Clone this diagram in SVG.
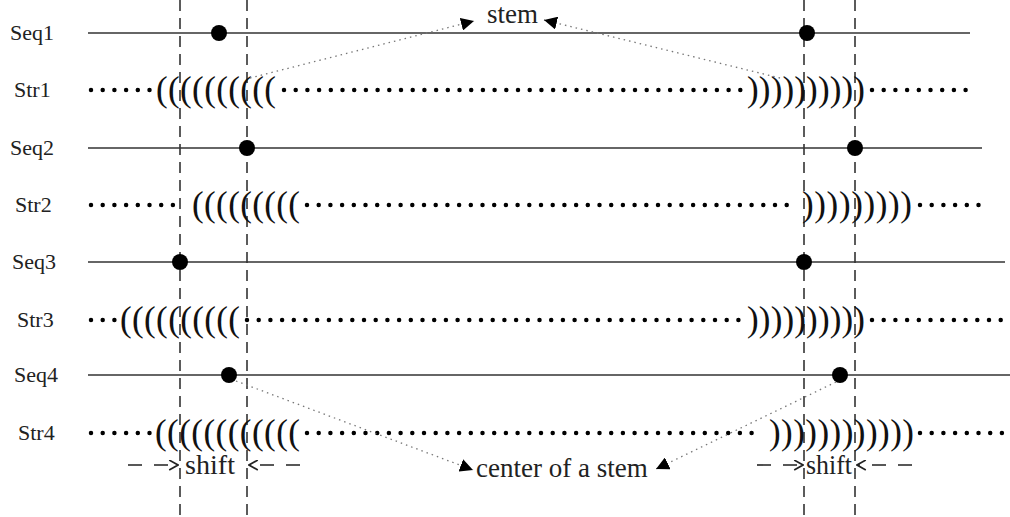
<svg xmlns="http://www.w3.org/2000/svg" width="1010" height="517" viewBox="0 0 1010 517">
<style>
.lbl{font-family:"Liberation Serif",serif;font-size:22px;fill:#222}
.ann{font-family:"Liberation Serif",serif;font-size:27px;fill:#222}
.par{font-family:"Liberation Serif",serif;font-size:35px;fill:#111}
.seq{stroke:#333;stroke-width:1.6;fill:none}
.dots{stroke:#000;stroke-width:4.5;stroke-linecap:round;stroke-dasharray:0 11.7;fill:none}
.vd{stroke:#333;stroke-width:1.6;stroke-dasharray:11 7;fill:none}
.pt{stroke:#777;stroke-width:1.3;stroke-dasharray:1.5 4;fill:none}
.sd{stroke:#222;stroke-width:1.6;stroke-dasharray:14 12;fill:none}
</style>
<defs>
<marker id="tri" viewBox="0 0 10 10" refX="10" refY="5" markerWidth="13" markerHeight="13" markerUnits="userSpaceOnUse" orient="auto">
<path d="M0,0 L10,5 L0,10 z" fill="#000"/>
</marker>
<marker id="open" viewBox="0 0 10 10" refX="9" refY="5" markerWidth="11" markerHeight="11" markerUnits="userSpaceOnUse" orient="auto">
<path d="M1,0.5 L9,5 L1,9.5" fill="none" stroke="#222" stroke-width="1.5"/>
</marker>
</defs>

<g id="guides">
<line class="vd" x1="180" y1="0" x2="180" y2="517"/>
<line class="vd" x1="247" y1="0" x2="247" y2="517"/>
<line class="vd" x1="804" y1="0" x2="804" y2="517"/>
<line class="vd" x1="855" y1="0" x2="855" y2="517"/>
</g>

<g id="seq1">
<text class="lbl" x="10" y="40">Seq1</text>
<line class="seq" x1="88" y1="33" x2="970" y2="33"/>
<circle cx="219" cy="33" r="8" fill="#000"/>
<circle cx="807" cy="33" r="8" fill="#000"/>
</g>
<g id="str1">
<text class="lbl" x="14" y="97">Str1</text>
<line class="dots" x1="91" y1="90" x2="152" y2="90"/>
<text class="par" x="156" y="101" textLength="120" lengthAdjust="spacing">((((((((((</text>
<line class="dots" x1="284" y1="90" x2="742" y2="90"/>
<text class="par" x="747" y="101" textLength="118" lengthAdjust="spacing">))))))))))</text>
<line class="dots" x1="872" y1="90" x2="970" y2="90"/>
</g>

<g id="seq2">
<text class="lbl" x="10" y="155">Seq2</text>
<line class="seq" x1="88" y1="148" x2="982" y2="148"/>
<circle cx="247" cy="148" r="8" fill="#000"/>
<circle cx="855" cy="148" r="8" fill="#000"/>
</g>
<g id="str2">
<text class="lbl" x="15" y="212">Str2</text>
<line class="dots" x1="91" y1="205" x2="180" y2="205"/>
<text class="par" x="192" y="216" textLength="108" lengthAdjust="spacing">(((((((((</text>
<line class="dots" x1="307" y1="205" x2="798" y2="205"/>
<text class="par" x="802" y="216" textLength="110" lengthAdjust="spacing">)))))))))</text>
<line class="dots" x1="920" y1="205" x2="982" y2="205"/>
</g>

<g id="seq3">
<text class="lbl" x="12" y="269">Seq3</text>
<line class="seq" x1="88" y1="262" x2="1005" y2="262"/>
<circle cx="180" cy="262" r="8" fill="#000"/>
<circle cx="804" cy="262" r="8" fill="#000"/>
</g>
<g id="str3">
<text class="lbl" x="17" y="327">Str3</text>
<line class="dots" x1="91" y1="320" x2="116" y2="320"/>
<text class="par" x="120" y="331" textLength="120" lengthAdjust="spacing">((((((((((</text>
<line class="dots" x1="247" y1="320" x2="742" y2="320"/>
<text class="par" x="747" y="331" textLength="118" lengthAdjust="spacing">))))))))))</text>
<line class="dots" x1="872" y1="320" x2="1005" y2="320"/>
</g>

<g id="seq4">
<text class="lbl" x="14" y="382">Seq4</text>
<line class="seq" x1="88" y1="375" x2="1010" y2="375"/>
<circle cx="229" cy="375" r="8" fill="#000"/>
<circle cx="840" cy="375" r="8" fill="#000"/>
</g>
<g id="str4">
<text class="lbl" x="18" y="440">Str4</text>
<line class="dots" x1="91" y1="433" x2="152" y2="433"/>
<text class="par" x="155" y="444" textLength="145" lengthAdjust="spacing">((((((((((((</text>
<line class="dots" x1="307" y1="433" x2="763" y2="433"/>
<text class="par" x="769" y="444" textLength="145" lengthAdjust="spacing">))))))))))))</text>
<line class="dots" x1="920" y1="433" x2="1005" y2="433"/>
</g>

<g id="stem-label">
<text class="ann" x="487" y="23">stem</text>
</g>
<g id="center-label">
<text class="ann" x="476" y="477">center of a stem</text>
</g>
<g id="shift-left">
<text class="ann" x="185" y="474" textLength="50" lengthAdjust="spacingAndGlyphs">shift</text>
</g>
<g id="shift-right">
<text class="ann" x="806" y="474" textLength="46" lengthAdjust="spacingAndGlyphs">shift</text>
</g>

<g id="connectors">
<line class="pt" x1="250" y1="78" x2="474" y2="21" marker-end="url(#tri)"/>
<line class="pt" x1="780" y1="78" x2="544" y2="20" marker-end="url(#tri)"/>
<line class="pt" x1="236" y1="381" x2="473" y2="470" marker-end="url(#tri)"/>
<line class="pt" x1="836" y1="382" x2="656" y2="469" marker-end="url(#tri)"/>
<line class="sd" x1="128" y1="465" x2="178" y2="465" marker-end="url(#open)"/>
<line class="sd" x1="300" y1="465" x2="249" y2="465" marker-end="url(#open)"/>
<line class="sd" x1="757" y1="465" x2="803" y2="465" marker-end="url(#open)"/>
<line class="sd" x1="912" y1="465" x2="857" y2="465" marker-end="url(#open)"/>
</g>
</svg>
